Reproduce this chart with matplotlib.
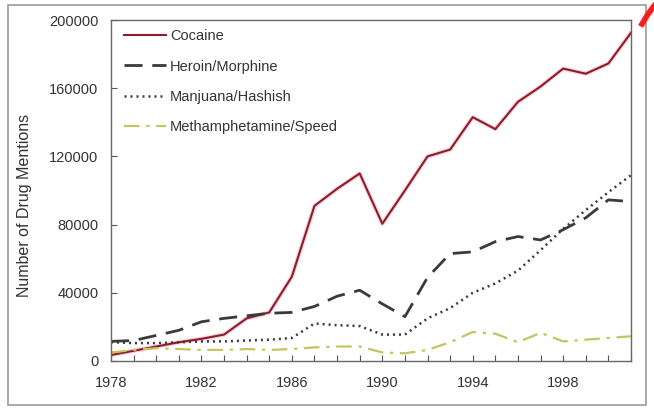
import matplotlib
matplotlib.use("Agg")
import matplotlib.pyplot as plt
from matplotlib.lines import Line2D
from matplotlib.patches import Rectangle

years = list(range(1978, 2002))
cocaine = [3500, 6000, 8500, 11000, 13000, 15500, 25000, 28500, 49500, 91000,
           101000, 110000, 80500, 100000, 120000, 124000, 143000, 136000, 152000,
           161000, 171500, 168500, 174500, 192500]
heroin = [11500, 12000, 15000, 18000, 23000, 25000, 26500, 28000, 28500, 32000,
          38000, 41500, 33500, 26000, 49000, 63000, 64000, 70000, 73000, 71000,
          77000, 84000, 94500, 93500]
marijuana = [11000, 10500, 10500, 11000, 11500, 11500, 12000, 12500, 13500, 22000,
             21000, 20500, 15500, 15500, 25000, 31000, 40000, 45500, 53000, 65000,
             77500, 88500, 99000, 109000]
meth = [5000, 6500, 7500, 7000, 6500, 6500, 7000, 6500, 7000, 8000,
        8500, 8500, 5000, 4500, 6500, 11000, 17000, 16000, 11000, 16500,
        11500, 12500, 13500, 14500]

labels = ["Cocaine", "Heroin/Morphine", "Manjuana/Hashish", "Methamphetamine/Speed"]
yticks = [0, 40000, 80000, 120000, 160000, 200000]
xticks = [1978, 1982, 1986, 1990, 1994, 1998]

plt.rcParams['font.family'] = ['Liberation Sans', 'DejaVu Sans']

fig = plt.figure(figsize=(6.54, 4.09), dpi=100)
ax = fig.add_axes([111/654, 1-361/409, (631-111)/654, (361-20)/409])

ax.plot(years, cocaine, color='#f4b8c0', lw=3.2, alpha=0.6, solid_capstyle='round')
ax.plot(years, cocaine, color='#8c1c2c', lw=1.5, label=labels[0])
ax.plot(years, heroin, color='#3a3a3a', lw=2.0, dashes=(6.5, 3.5), label=labels[1])
ax.plot(years, marijuana, color='#3a3a3a', lw=1.8, dashes=(0.8, 1.6), label=labels[2])
ax.plot(years, meth, color='#c4c460', lw=1.6, dashes=(7, 3, 1.5, 3), label=labels[3])

ax.set_xlim(1978, 2001)
ax.set_ylim(0, 200000)
ax.set_xticks(xticks)
ax.set_xticks(years, minor=True)
ax.set_yticks(yticks)
ax.set_yticklabels([str(v) for v in yticks])
ax.tick_params(axis='x', which='both', direction='in', length=4, width=0.8,
               colors='#555555', labelsize=10.5, labelcolor='#333333', pad=11)
ax.tick_params(axis='y', which='both', direction='in', length=4, width=0.8,
               colors='#555555', labelsize=10.5, labelcolor='#333333', pad=9)
for s in ax.spines.values():
    s.set_color('#666666')
    s.set_linewidth(1.0)

ax.set_ylabel("Number of Drug Mentions", fontsize=11.5, color='#333333')
ax.yaxis.set_label_coords(-0.152, 0.455)

leg = ax.legend(loc='upper left', frameon=False, fontsize=10.5, handlelength=2.9,
                labelspacing=1.12, borderaxespad=0.0, bbox_to_anchor=(0.014, 0.99),
                handletextpad=0.25)
for t in leg.get_texts():
    t.set_color('#333333')

# outer frame of the picture
fig.patches.append(Rectangle((8/654, 1-405/409), (646-8)/654, (405-5)/409,
                             transform=fig.transFigure, fill=False,
                             edgecolor='#9a9a9a', lw=1.2))
# red corner mark
fig.lines.append(Line2D([642/654, 648/654, 654/654], [1-24/409, 1-14/409, 1-6/409],
                        transform=fig.transFigure, color='#ff1a1a', lw=4))

fig.savefig("out.png", dpi=100)
